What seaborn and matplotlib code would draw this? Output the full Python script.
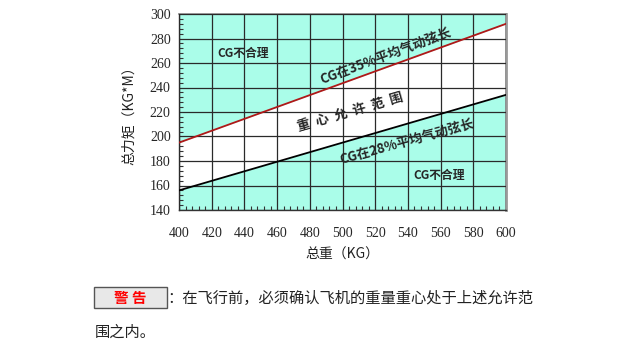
import matplotlib
matplotlib.use("Agg")
import matplotlib.pyplot as plt
import seaborn as sns
import pandas as pd
from matplotlib.patches import Rectangle
from matplotlib.ticker import MultipleLocator

# ---- data ----
weights = [400, 600]                 # total weight (KG)
moment_35 = [195, 292]               # CG at 35% MAC limit line
moment_28 = [156, 234]               # CG at 28% MAC limit line
x_ticks = [400, 420, 440, 460, 480, 500, 520, 540, 560, 580, 600]
y_ticks = [140, 160, 180, 200, 220, 240, 260, 280, 300]

sns.set_theme(style="white")
plt.rcParams['font.family'] = ['Noto Sans CJK SC', 'DejaVu Sans']

cyan = '#aafde9'
fig = plt.figure(figsize=(6.29, 3.62), dpi=100)
fig.patch.set_facecolor('white')
ax = fig.add_axes([179/629, 1-210/362, (506-179)/629, (210-14)/362])
ax.set_facecolor('white')

df = pd.DataFrame({'w': weights, 'm35': moment_35, 'm28': moment_28})
ax.fill_between(df['w'], df['m35'], 300, color=cyan, lw=0, zorder=0)
ax.fill_between(df['w'], 140, df['m28'], color=cyan, lw=0, zorder=0)

ax.set_xlim(400, 600)
ax.set_ylim(140, 300)
ax.set_xticks(x_ticks)
ax.set_yticks(y_ticks)
ax.xaxis.set_minor_locator(MultipleLocator(4))
ax.yaxis.set_minor_locator(MultipleLocator(4))
ax.grid(True, which='major', color='#2a2a2a', lw=0.9, zorder=1)
ax.set_axisbelow(False)

sns.lineplot(data=df, x='w', y='m35', ax=ax, color='#b01818', lw=1.3, zorder=3)
sns.lineplot(data=df, x='w', y='m28', ax=ax, color='#000000', lw=1.3, zorder=3)

for s in ['left', 'bottom']:
    ax.spines[s].set_color('#333333')
    ax.spines[s].set_linewidth(1.0)
ax.spines['top'].set_color('#888888')
ax.spines['right'].set_color('#999999')
ax.spines['right'].set_linewidth(2.0)

ax.tick_params(which='major', length=0, labelsize=10, pad=6)
ax.tick_params(which='minor', direction='in', length=3, color='#333333',
               left=True, bottom=True, width=0.8)
for lab in ax.get_xticklabels() + ax.get_yticklabels():
    lab.set_family('Liberation Serif')
ax.tick_params(axis='x', pad=12)

ax.set_xlabel('总重（KG）', fontsize=10, color='#222222', labelpad=6)
ax.set_ylabel('总力矩（KG*M）', fontsize=10, color='#222222', labelpad=10)

# in-plot annotations
ax.text(439, 268, 'CG不合理', fontsize=8.5, fontweight='bold', ha='center', va='center', zorder=4)
ax.text(559, 168.5, 'CG不合理', fontsize=8.5, fontweight='bold', ha='center', va='center', zorder=4)
ax.text(526.5, 266, 'CG在35%平均气动弦长', fontsize=9.5, fontweight='bold', rotation=20.5,
        rotation_mode='anchor', ha='center', va='center', zorder=4)
ax.text(539.5, 196.3, 'CG在28%平均气动弦长', fontsize=9.5, fontweight='bold', rotation=15.5,
        rotation_mode='anchor', ha='center', va='center', zorder=4)
ax.text(504.5, 220, '重  心  允  许  范  围', fontsize=9.5, fontweight='bold', rotation=16,
        rotation_mode='anchor', ha='center', va='center', zorder=4)

# warning box and notes
fig.patches.append(Rectangle((94/629, 1-308/362), 73/629, 21/362, transform=fig.transFigure,
                             facecolor='#e8e8e8', edgecolor='#555555', lw=1.0))
fig.text(130/629, 1-298/362, '警 告', color='#ff0000', fontsize=10.5, fontweight='bold',
         ha='center', va='center')
fig.text(167/629, 1-298/362, '：在飞行前，必须确认飞机的重量重心处于上述允许范',
         fontsize=11, color='#222222', ha='left', va='center')
fig.text(95/629, 1-332/362, '围之内。', fontsize=11, color='#222222', ha='left', va='center')

fig.savefig('out.png', dpi=100, facecolor='white')
